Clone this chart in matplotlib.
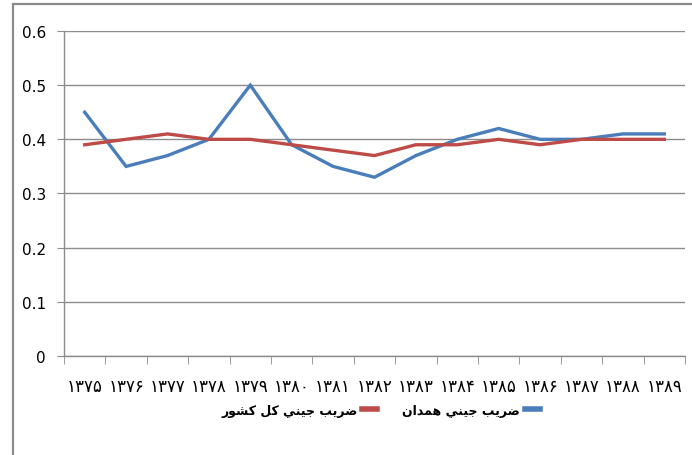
import matplotlib
matplotlib.use("Agg")
import matplotlib.pyplot as plt
from matplotlib.patches import Rectangle
from matplotlib.lines import Line2D

# Data
years = ['۱۳۷۵', '۱۳۷۶', '۱۳۷۷', '۱۳۷۸', '۱۳۷۹', '۱۳۸۰', '۱۳۸۱', '۱۳۸۲',
         '۱۳۸۳', '۱۳۸۴', '۱۳۸۵', '۱۳۸۶', '۱۳۸۷', '۱۳۸۸', '۱۳۸۹']
gini_hamedan = [0.45, 0.35, 0.37, 0.40, 0.50, 0.39, 0.35, 0.33,
                0.37, 0.40, 0.42, 0.40, 0.40, 0.41, 0.41]
gini_country = [0.39, 0.40, 0.41, 0.40, 0.40, 0.39, 0.38, 0.37,
                0.39, 0.39, 0.40, 0.39, 0.40, 0.40, 0.40]
label_hamedan = 'ضريب جيني همدان'
label_country = 'ضريب جيني كل كشور'

# matplotlib has no arabic shaping, so pick presentation forms by hand
# (isolated, final, initial, medial)
FORMS = {
    'ض': (0xFEBD, 0xFEBE, 0xFEBF, 0xFEC0),
    'ر': (0xFEAD, 0xFEAE, None, None),
    'ي': (0xFEF1, 0xFEF2, 0xFEF3, 0xFEF4),
    'ب': (0xFE8F, 0xFE90, 0xFE91, 0xFE92),
    'ج': (0xFE9D, 0xFE9E, 0xFE9F, 0xFEA0),
    'ن': (0xFEE5, 0xFEE6, 0xFEE7, 0xFEE8),
    'ه': (0xFEE9, 0xFEEA, 0xFEEB, 0xFEEC),
    'م': (0xFEE1, 0xFEE2, 0xFEE3, 0xFEE4),
    'د': (0xFEA9, 0xFEAA, None, None),
    'ا': (0xFE8D, 0xFE8E, None, None),
    'ك': (0xFED9, 0xFEDA, 0xFEDB, 0xFEDC),
    'ل': (0xFEDD, 0xFEDE, 0xFEDF, 0xFEE0),
    'ش': (0xFEB5, 0xFEB6, 0xFEB7, 0xFEB8),
    'و': (0xFEED, 0xFEEE, None, None),
}


def shape(text):
    out = []
    for i, ch in enumerate(text):
        if ch not in FORMS:
            out.append(ch)
            continue
        prev = text[i - 1] if i > 0 else ' '
        nxt = text[i + 1] if i + 1 < len(text) else ' '
        jp = prev in FORMS and FORMS[prev][2] is not None
        jn = nxt in FORMS and FORMS[ch][2] is not None
        iso, fin, ini, med = FORMS[ch]
        code = med if (jp and jn) else fin if jp else ini if jn else iso
        out.append(chr(code))
    return ''.join(out)[::-1]


blue = '#4A7EBB'
red = '#BE4B48'
grid_c = '#8C8C8C'

fig = plt.figure(figsize=(6.92, 4.56), dpi=100)
ax = fig.add_axes([64 / 692, 1 - 357 / 456, 621 / 692, 325 / 456])

x = range(len(years))
ax.plot(x, gini_hamedan, color=blue, lw=2.4, solid_joinstyle='miter')
ax.plot(x, gini_country, color=red, lw=2.4, solid_joinstyle='miter')

ax.set_xlim(-0.5, len(years) - 0.5)
ax.set_ylim(0, 0.6)
ax.set_yticks([0, 0.1, 0.2, 0.3, 0.4, 0.5, 0.6])
ax.set_yticklabels(['0', '0.1', '0.2', '0.3', '0.4', '0.5', '0.6'])
ax.set_xticks(list(x))
ax.set_xticklabels(years)
ax.set_xticks([i - 0.5 for i in range(len(years) + 1)], minor=True)

ax.grid(axis='y', color=grid_c, lw=1)
ax.set_axisbelow(True)
for s in ['top', 'right']:
    ax.spines[s].set_visible(False)
for s in ['left', 'bottom']:
    ax.spines[s].set_color(grid_c)
    ax.spines[s].set_linewidth(1)

ax.tick_params(axis='x', which='major', length=0, pad=15, labelsize=12)
ax.tick_params(axis='x', which='minor', length=6, color=grid_c, direction='out')
ax.tick_params(axis='y', length=5, color=grid_c, pad=8, labelsize=11)

handles = [Line2D([], [], color=red, lw=4), Line2D([], [], color=blue, lw=4)]
fig.legend(handles, [shape(label_country), shape(label_hamedan)],
           loc='center', bbox_to_anchor=(0.55, 0.098), ncol=2,
           markerfirst=False, frameon=False, handlelength=1.2,
           handletextpad=0.4, columnspacing=2.0,
           prop={'family': 'DejaVu Sans', 'weight': 'bold', 'size': 9})

# outer chart border (only top and left edges visible)
fig.add_artist(Rectangle((13 / 692, -0.1), 1.1, 1.1 - 5 / 456,
                         transform=fig.transFigure, fill=False,
                         edgecolor='#8A8A8A', lw=1.6, clip_on=False))

fig.savefig('out.png', dpi=100)
